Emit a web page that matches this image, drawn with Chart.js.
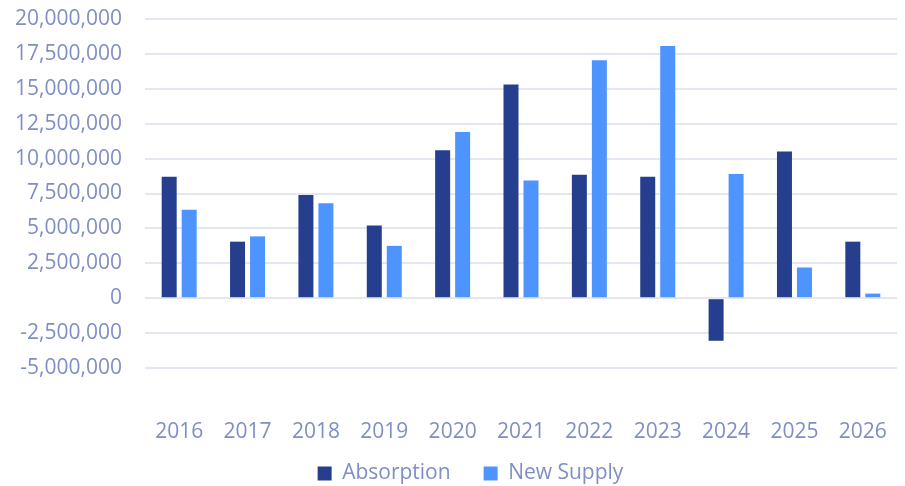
<!DOCTYPE html>
<html lang="en">
<head>
  <meta charset="UTF-8" />
  <title>Absorption vs New Supply</title>
  <script src="https://cdn.jsdelivr.net/npm/chart.js@4.4.1/dist/chart.umd.min.js"></script>
  <style>
    html, body { margin: 0; padding: 0; background: #ffffff; }
    #wrap { width: 905px; height: 486px; }
  </style>
</head>
<body>
  <div id="wrap"><canvas id="chart" width="905" height="486"></canvas></div>
  <script>
    const years = ['2016', '2017', '2018', '2019', '2020', '2021', '2022', '2023', '2024', '2025', '2026'];
    const absorption = [8700000, 4050000, 7400000, 5200000, 10600000, 15300000, 8850000, 8700000, -3050000, 10500000, 4050000];
    const newSupply = [6330000, 4430000, 6800000, 3750000, 11900000, 8430000, 17050000, 18070000, 8900000, 2200000, 330000];

    const tickColor = '#7f8fc4';
    const font = { family: "'Open Sans', sans-serif", size: 21 };

    // nudge the legend into place (its padding also sets the gap between items)
    const legendNudge = {
      id: 'legendNudge',
      afterLayout(chart) {
        const lg = chart.legend;
        if (!lg) return;
        lg.top -= 16;
        lg.left += 22; lg.right += 22;
      }
    };

    new Chart(document.getElementById('chart'), {
      type: 'bar',
      data: {
        labels: years,
        datasets: [
          { label: 'Absorption', data: absorption, backgroundColor: '#253f8e',
            categoryPercentage: 0.585, barPercentage: 0.75 },
          { label: 'New Supply', data: newSupply, backgroundColor: '#4d94ff',
            categoryPercentage: 0.585, barPercentage: 0.75 }
        ]
      },
      plugins: [legendNudge],
      options: {
        responsive: false,
        animation: false,
        layout: { padding: { top: 19, right: 8, left: 0, bottom: 0 } },
        plugins: {
          legend: {
            position: 'bottom',
            maxHeight: 40,
            labels: { color: tickColor, font: font, boxWidth: 14, boxHeight: 14, padding: 33 }
          },
          tooltip: { enabled: false }
        },
        scales: {
          x: {
            afterFit: (s) => { s.height = 78; s.paddingLeft = 0; s.paddingRight = 0; },
            grid: { display: false, drawTicks: false },
            border: { display: false },
            ticks: { color: tickColor, font: font, padding: 51 }
          },
          y: {
            min: -5000000,
            max: 20000000,
            afterFit: (s) => { s.width = 145; s.paddingTop = 0; s.paddingBottom = 0; },
            grid: { color: '#e4e7ef', lineWidth: 2, drawTicks: false },
            border: { display: false },
            ticks: {
              stepSize: 2500000,
              color: tickColor,
              font: font,
              padding: 23,
              callback: (v) => v.toLocaleString('en-US')
            }
          }
        }
      }
    });
  </script>
</body>
</html>
